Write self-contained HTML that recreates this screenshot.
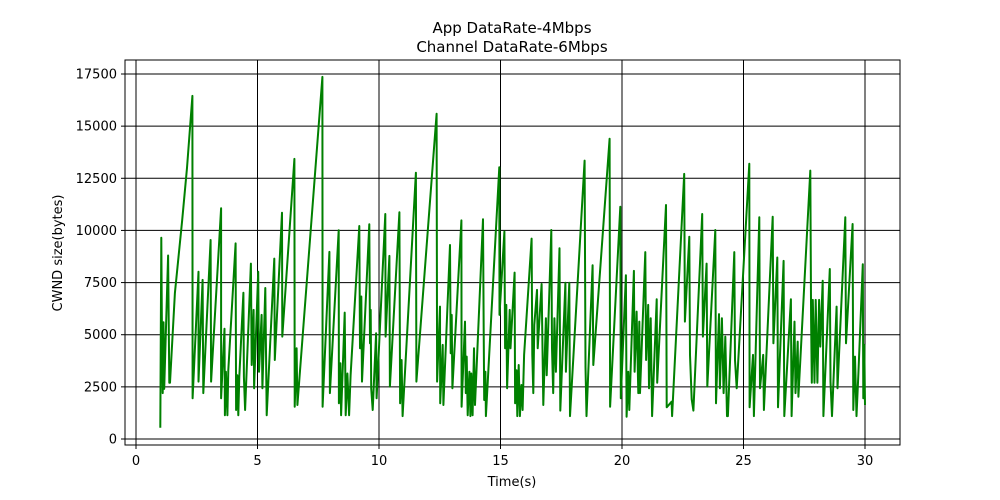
<!DOCTYPE html>
<html><head><meta charset="utf-8"><style>
body{margin:0;background:#fff;}
svg{display:block;font-family:"DejaVu Sans","Liberation Sans",sans-serif;}
</style></head><body>
<svg id="chart" width="1000" height="500" viewBox="0 0 1000 500" xmlns="http://www.w3.org/2000/svg">
<rect width="1000" height="500" fill="#fff"/>
<text x="512" y="33" font-size="15" text-anchor="middle">App DataRate-4Mbps</text>
<text x="512" y="52" font-size="15" text-anchor="middle">Channel DataRate-6Mbps</text>
<g id="grid"></g>
<g id="series"></g>
<rect x="125" y="60" width="775" height="385" fill="none" stroke="#000" stroke-width="1"/>
<g id="ticks"></g>
<text x="512" y="486" font-size="13" text-anchor="middle">Time(s)</text>
<text x="62" y="253" font-size="13" text-anchor="middle" transform="rotate(-90 62 253)">CWND size(bytes)</text>
</svg>
<script>
const xTicks = [0,5,10,15,20,25,30];
const yTicks = [0,2500,5000,7500,10000,12500,15000,17500];
const times = [1.00,1.04,1.07,1.10,1.13,1.16,1.32,1.37,1.40,1.6,1.9,2.1,2.32,2.33,2.57,2.57,2.74,2.77,3.07,3.09,3.5,3.5,3.64,3.66,3.7,3.76,3.8,4.1,4.12,4.17,4.21,4.25,4.42,4.44,4.49,4.73,4.76,4.84,4.86,5.03,5.06,5.17,5.2,5.32,5.38,5.69,5.71,6.01,6.02,6.52,6.53,6.61,6.64,7.67,7.68,7.96,7.98,8.34,8.35,8.41,8.44,8.59,8.63,8.7,8.77,8.83,9.19,9.22,9.27,9.3,9.6,9.63,9.66,9.68,9.74,9.88,9.9,10.26,10.27,10.43,10.45,10.84,10.87,10.93,10.97,11.52,11.54,12.37,12.39,12.51,12.52,12.62,12.65,12.92,12.95,12.99,13.02,13.39,13.4,13.54,13.57,13.61,13.65,13.72,13.76,13.8,13.85,13.91,13.95,14.28,14.31,14.33,14.38,14.4,14.95,14.96,15.16,15.19,15.24,15.27,15.38,15.41,15.58,15.6,15.66,15.69,15.75,15.8,15.86,15.91,15.97,16.28,16.31,16.35,16.39,16.5,16.53,16.69,16.76,16.87,16.9,17.09,17.12,17.17,17.22,17.28,17.43,17.46,17.67,17.69,17.83,17.86,18.46,18.5,18.54,18.79,18.82,19.49,19.51,19.93,19.95,20.16,20.19,20.26,20.3,20.49,20.52,20.6,20.67,20.71,20.74,20.96,20.99,21.08,21.11,21.18,21.24,21.43,21.45,21.81,21.84,22.04,22.06,22.56,22.59,22.77,22.8,22.87,22.94,23.3,23.33,23.48,23.51,23.84,23.87,23.99,24.03,24.11,24.18,24.25,24.32,24.36,24.62,24.65,24.72,25.24,25.25,25.39,25.43,25.65,25.68,25.81,25.84,26.2,26.23,26.39,26.42,26.65,26.68,26.95,26.98,27.1,27.14,27.23,27.26,27.75,27.78,27.81,27.85,27.92,27.97,28.04,28.11,28.16,28.26,28.29,28.55,28.58,28.64,28.83,28.87,29.19,29.22,29.49,29.52,29.59,29.65,29.73,29.91,29.93,29.97,30.0];
const cwnd = [540,9650,4600,2200,5600,2400,8800,2700,2700,7000,10500,13000,16450,1950,8020,2750,7630,2200,9540,2750,11060,1950,5290,1140,3220,1140,3300,9380,1390,3060,1140,2980,7010,2980,1390,8410,3550,6190,2430,8020,3220,5950,2430,7240,1140,8650,3790,10850,4910,13430,1550,4350,1630,17360,1550,8970,2200,10010,1710,3630,1140,6060,1140,3140,1140,3060,10210,4350,6830,2750,10300,4590,6190,2430,1390,5070,1950,10790,4910,8780,2510,10870,1710,3790,1100,12770,2750,15590,2750,6350,1710,4510,1630,9300,4110,5950,2430,10480,1550,5630,2200,3950,1140,3220,1100,3140,1140,4350,1630,10540,5150,1870,3220,1100,13030,5950,9950,4350,6430,2430,6190,4350,7980,1710,3300,1100,3550,1100,2590,1390,4030,9610,4030,2200,5470,7150,4350,7430,1630,5790,3060,10020,4350,2200,5790,3220,9150,1360,7490,3220,7490,1100,13350,3470,1100,8330,3550,14400,1550,11140,1950,7850,1070,3220,1390,8060,3220,6110,2200,5630,2200,8960,3790,6430,2430,5790,1100,6700,2700,11220,1520,1790,1100,12710,5630,9700,4030,1900,1360,10790,4910,8410,2510,10020,1710,5990,2430,5790,2200,4910,1100,1100,8960,3790,2430,13200,1520,4030,1100,10630,2430,4030,1390,10660,4590,8700,1520,8540,1100,6700,1100,5630,2200,4670,2030,12870,5710,2700,6670,2700,6670,2700,6670,4430,7590,1100,8150,2750,1100,6350,2430,10630,4590,10310,1390,3950,1100,3140,8380,1950,4510,1630];
const NS='http://www.w3.org/2000/svg';
const X0=136, XS=24.3, Y0=439, YS=365/17500;
function xs(t){return X0+t*XS;}
function ys(v){return Y0-v*YS;}
const grid=document.getElementById('grid'), ticks=document.getElementById('ticks'), series=document.getElementById('series');
function mk(tag,attrs,parent){const e=document.createElementNS(NS,tag);for(const k in attrs)e.setAttribute(k,attrs[k]);parent.appendChild(e);return e;}
xTicks.forEach(t=>{
  const gl=mk('line',{x1:xs(t),x2:xs(t),y1:60,y2:445,stroke:'#000','stroke-width':1},grid);
  
  
  const tk=mk('line',{x1:xs(t),x2:xs(t),y1:445,y2:449,stroke:'#000'},ticks);
  
  
  const lb=mk('text',{x:xs(t),y:465,'font-size':13,'text-anchor':'middle'},ticks);
  lb.textContent=t;
  
  
});
yTicks.forEach(v=>{
  const gl=mk('line',{x1:125,x2:900,y1:ys(v),y2:ys(v),stroke:'#000','stroke-width':1},grid);
  
  
  const tk=mk('line',{x1:121,x2:125,y1:ys(v),y2:ys(v),stroke:'#000'},ticks);
  
  
  const lb=mk('text',{x:117,y:ys(v)+4.5,'font-size':13,'text-anchor':'end'},ticks);
  lb.textContent=v;
  
  
});
const pts=times.map((t,i)=>xs(t).toFixed(1)+','+ys(cwnd[i]).toFixed(1)).join(' ');
const pl=mk('polyline',{points:pts,fill:'none',stroke:'#008000','stroke-width':2,'stroke-linejoin':'round'},series);


</script>
</body></html>
